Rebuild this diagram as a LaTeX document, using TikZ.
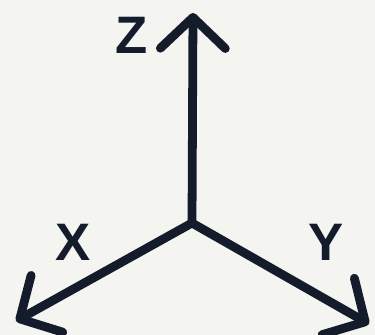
\documentclass[tikz,border=0pt]{standalone}
\usepackage{fontspec}
\setmainfont{Liberation Sans}
\usetikzlibrary{arrows.meta}
\definecolor{bgcol}{HTML}{F4F4F0}
\definecolor{axcol}{HTML}{141C2C}
\begin{document}
\begin{tikzpicture}[axis/.style={draw=axcol,line width=5pt,line cap=round,line join=round,
    -{Straight Barb[length=0.62cm,width=1.3cm,line cap=round,round]}},
  lbl/.style={text=axcol,font=\bfseries\fontsize{30}{30}\selectfont}]
% background and frame
\fill[bgcol] (0,0) rectangle (7.5,6.7);
\useasboundingbox (0,0) rectangle (7.5,6.7);
% axes
\coordinate (o) at (3.84,2.24);
\coordinate (ztip) at (3.86,6.44);
\coordinate (xtip) at (0.32,0.28);
\coordinate (ytip) at (7.38,0.22);
\draw[axis] (o) -- (ztip);
\draw[axis] (o) -- (xtip);
\draw[axis] (o) -- (ytip);
% labels
\node[lbl] (zlab) at (2.64,6.0) {Z};
\node[lbl] (xlab) at (1.46,1.86) {X};
\node[lbl] (ylab) at (6.52,1.86) {Y};
\end{tikzpicture}
\end{document}
